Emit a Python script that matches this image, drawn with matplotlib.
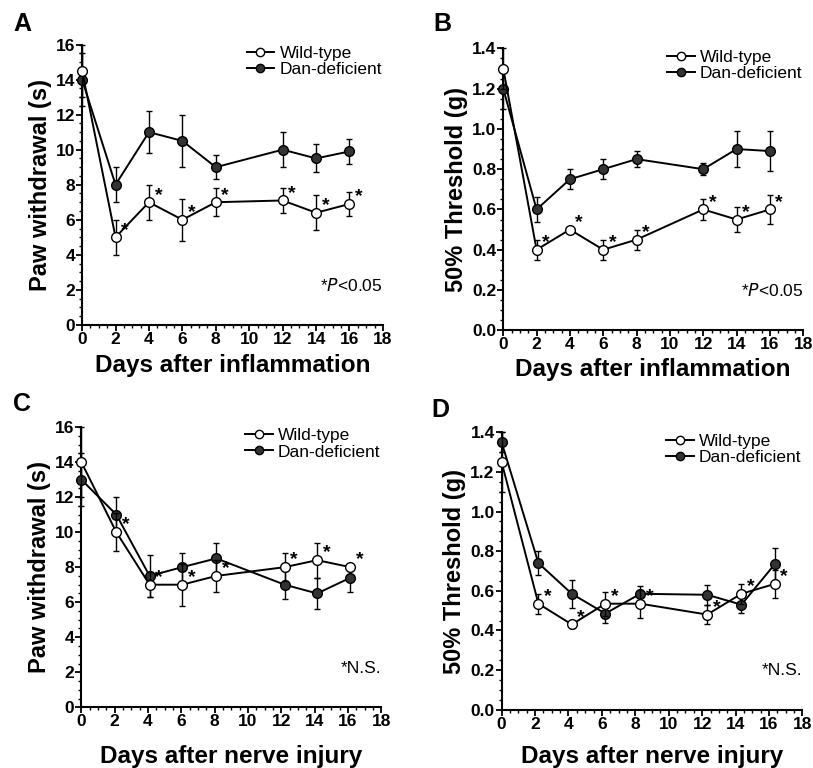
import matplotlib
matplotlib.use('Agg')
import matplotlib.pyplot as plt
from matplotlib.lines import Line2D
from matplotlib.ticker import MultipleLocator

plt.rcParams['font.family'] = ['Liberation Sans', 'DejaVu Sans']

# Panel A - paw withdrawal, inflammation
a_days = [0, 2, 4, 6, 8, 12, 14, 16]
a_wt = [14.5, 5.0, 7.0, 6.0, 7.0, 7.1, 6.4, 6.9]
a_wt_err = [1.5, 1.0, 1.0, 1.2, 0.8, 0.7, 1.0, 0.7]
a_dan = [14.0, 8.0, 11.0, 10.5, 9.0, 10.0, 9.5, 9.9]
a_dan_err = [1.5, 1.0, 1.2, 1.5, 0.7, 1.0, 0.8, 0.7]

# Panel B - 50% threshold, inflammation
b_days = [0, 2, 4, 6, 8, 12, 14, 16]
b_wt = [1.30, 0.40, 0.50, 0.40, 0.45, 0.60, 0.55, 0.60]
b_wt_err = [0.10, 0.05, 0.01, 0.05, 0.05, 0.05, 0.06, 0.07]
b_dan = [1.20, 0.60, 0.75, 0.80, 0.85, 0.80, 0.90, 0.89]
b_dan_err = [0.10, 0.06, 0.05, 0.05, 0.04, 0.03, 0.09, 0.10]

# Panel C - paw withdrawal, nerve injury
c_days = [0, 2.1, 4.1, 6.05, 8.1, 12.2, 14.15, 16.15]
c_wt = [14.0, 10.0, 7.0, 7.0, 7.5, 8.0, 8.4, 8.0]
c_wt_err = [2.0, 1.1, 0.7, 1.2, 0.9, 0.8, 1.0, 0.2]
c_dan = [13.0, 11.0, 7.5, 8.0, 8.5, 7.0, 6.5, 7.4]
c_dan_err = [1.5, 1.0, 1.2, 0.8, 0.9, 0.8, 0.9, 0.8]

# Panel D - 50% threshold, nerve injury
d_days = [0, 2.2, 4.2, 6.2, 8.3, 12.3, 14.35, 16.35]
d_wt = [1.25, 0.535, 0.43, 0.535, 0.535, 0.48, 0.585, 0.635]
d_wt_err = [0.15, 0.05, 0.02, 0.06, 0.07, 0.05, 0.05, 0.07]
d_dan = [1.35, 0.74, 0.585, 0.485, 0.585, 0.58, 0.53, 0.735]
d_dan_err = [0.05, 0.06, 0.07, 0.05, 0.04, 0.05, 0.04, 0.08]

panels = [
    ('A', a_days, a_wt, a_wt_err, a_dan, a_dan_err, 16, 2, 'Paw withdrawal (s)',
     'Days after inflammation', r'*$\it{P}$<0.05', [0.101, 0.577, 0.370, 0.365], (0.016, 0.969), 5),
    ('B', b_days, b_wt, b_wt_err, b_dan, b_dan_err, 1.4, 0.2, '50% Threshold (g)',
     'Days after inflammation', r'*$\it{P}$<0.05', [0.619, 0.570, 0.369, 0.367], (0.533, 0.969), 4),
    ('C', c_days, c_wt, c_wt_err, c_dan, c_dan_err, 16, 2, 'Paw withdrawal (s)',
     'Days after nerve injury', '*N.S.', [0.100, 0.079, 0.369, 0.365], (0.016, 0.474), 11),
    ('D', d_days, d_wt, d_wt_err, d_dan, d_dan_err, 1.4, 0.2, '50% Threshold (g)',
     'Days after nerve injury', '*N.S.', [0.617, 0.076, 0.370, 0.361], (0.531, 0.466), 10),
]

fig = plt.figure(figsize=(8.13, 7.68), dpi=100)

for letter, days, wt, wt_err, dan, dan_err, ymax, ystep, ylab, xlab, note, rect, lpos, xpad in panels:
    ax = fig.add_axes(rect)
    ax.errorbar(days, dan, yerr=dan_err, color='black', lw=1.4, elinewidth=1.0,
                capsize=2, marker='o', ms=7, mfc='#333333', mec='black',
                clip_on=False, zorder=3)
    ax.errorbar(days, wt, yerr=wt_err, color='black', lw=1.4, elinewidth=1.0,
                capsize=2, marker='o', ms=7, mfc='white', mec='black',
                clip_on=False, zorder=4)
    # asterisks beside the wild-type points
    for x, y in zip(days[1:], wt[1:]):
        ax.annotate('*', (x, y), xytext=(4, -1), textcoords='offset points',
                    fontsize=14, fontweight='bold', va='bottom', ha='left')

    ax.set_xlim(0, 18)
    ax.set_ylim(0, ymax)
    ax.xaxis.set_major_locator(MultipleLocator(2))
    ax.xaxis.set_minor_locator(MultipleLocator(0.5))
    ax.yaxis.set_major_locator(MultipleLocator(ystep))
    ax.yaxis.set_minor_locator(MultipleLocator(ystep / 4))
    if ystep < 1:
        ax.set_yticklabels(['%.1f' % v for v in ax.get_yticks()])
    ax.spines['top'].set_visible(False)
    ax.spines['right'].set_visible(False)
    ax.spines['left'].set_linewidth(1.5)
    ax.spines['bottom'].set_linewidth(1.5)
    ax.tick_params(which='major', direction='out', length=4, width=1.3, labelsize=12.5, pad=1)
    ax.tick_params(which='minor', direction='out', length=2, width=1)
    for t in ax.get_xticklabels() + ax.get_yticklabels():
        t.set_fontweight('bold')

    ax.set_ylabel(ylab, fontsize=17, fontweight='bold', labelpad=3)
    ax.set_xlabel(xlab, fontsize=17.5, fontweight='bold', labelpad=xpad)
    ax.text(1.0, 0.14, note, transform=ax.transAxes, ha='right', va='center', fontsize=12.5)

    handles = [
        Line2D([], [], color='black', lw=1.4, marker='o', ms=6, mfc='white', mec='black'),
        Line2D([], [], color='black', lw=1.4, marker='o', ms=6, mfc='#333333', mec='black'),
    ]
    ax.legend(handles, ['Wild-type', 'Dan-deficient'], loc='upper right',
              bbox_to_anchor=(1.02, 1.02), frameon=False, fontsize=12.5,
              handlelength=1.6, handletextpad=0.3, labelspacing=0.05, borderaxespad=0)

    fig.text(lpos[0], lpos[1], letter, fontsize=18, fontweight='bold', ha='left', va='center')

plt.savefig('out.png', dpi=100)
